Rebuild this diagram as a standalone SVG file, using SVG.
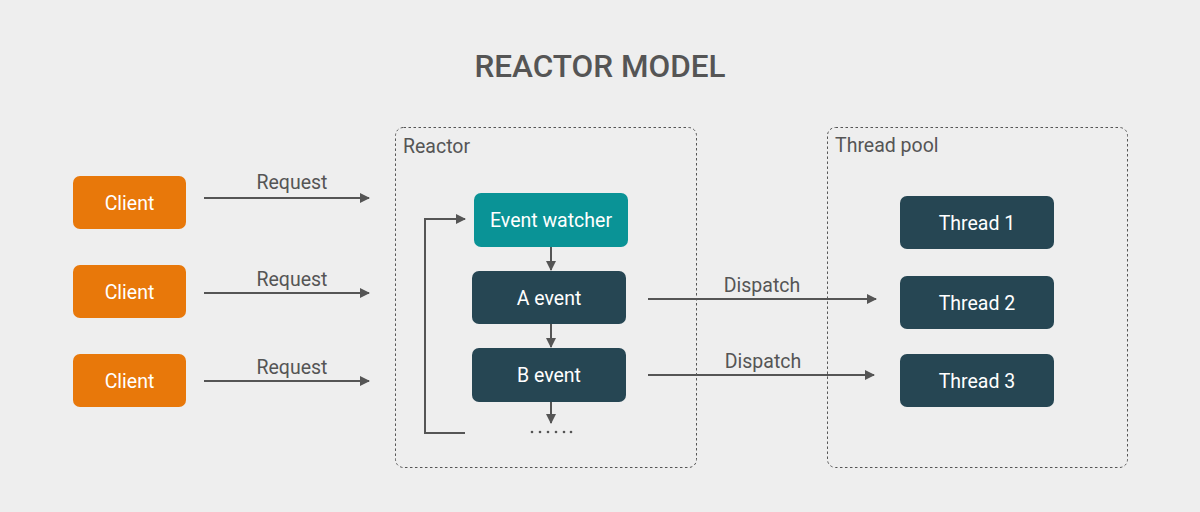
<svg xmlns="http://www.w3.org/2000/svg" width="1200" height="512" viewBox="0 0 1200 512">
<style>
text{font-family:Roboto,"Liberation Sans",sans-serif}
.node text{fill:#fff;font-size:19.5px;text-anchor:middle}
.lbl{fill:#555;font-size:19.5px}
.grp{fill:none;stroke:#555;stroke-width:1;stroke-dasharray:2.5 2.5}
.conn{fill:none;stroke:#555;stroke-width:2}
.client rect{fill:#e8780a}
.dark rect{fill:#264653}
.teal rect{fill:#0a9396}
</style>
<defs>
<marker id="ah" markerWidth="10" markerHeight="10" refX="9" refY="5" orient="auto" markerUnits="userSpaceOnUse">
<path d="M0,0 L10,5 L0,10 Z" fill="#555"/>
</marker>
</defs>
<rect width="1200" height="512" fill="#eeeeee"/>
<text x="600" y="77" text-anchor="middle" font-size="31.5" font-weight="500" fill="#555">REACTOR MODEL</text>

<g id="reactor-group">
<rect class="grp" x="395.5" y="127.5" width="301" height="340" rx="8"/>
<text class="lbl" x="403" y="153">Reactor</text>
</g>
<g id="threadpool-group">
<rect class="grp" x="827.5" y="127.5" width="300" height="340" rx="8"/>
<text class="lbl" x="835" y="152">Thread pool</text>
</g>

<g id="connectors">
<line class="conn" x1="204" y1="198" x2="369" y2="198" marker-end="url(#ah)"/>
<line class="conn" x1="204" y1="293" x2="369" y2="293" marker-end="url(#ah)"/>
<line class="conn" x1="204" y1="381" x2="369" y2="381" marker-end="url(#ah)"/>
<text class="lbl" x="292" y="189" text-anchor="middle">Request</text>
<text class="lbl" x="292" y="286" text-anchor="middle">Request</text>
<text class="lbl" x="292" y="374" text-anchor="middle">Request</text>
<line class="conn" x1="551" y1="247" x2="551" y2="270" marker-end="url(#ah)"/>
<line class="conn" x1="551" y1="324" x2="551" y2="347" marker-end="url(#ah)"/>
<line class="conn" x1="551" y1="402" x2="551" y2="423" marker-end="url(#ah)"/>
<polyline class="conn" points="465,433 425,433 425,219 465,219" marker-end="url(#ah)"/>
<line class="conn" x1="648" y1="299" x2="876" y2="299" marker-end="url(#ah)"/>
<line class="conn" x1="648" y1="375" x2="874" y2="375" marker-end="url(#ah)"/>
<text class="lbl" x="762" y="292" text-anchor="middle">Dispatch</text>
<text class="lbl" x="763" y="368" text-anchor="middle">Dispatch</text>
<g fill="#555">
<circle cx="532" cy="432" r="1.3"/><circle cx="540" cy="432" r="1.3"/><circle cx="548" cy="432" r="1.3"/>
<circle cx="556" cy="432" r="1.3"/><circle cx="564" cy="432" r="1.3"/><circle cx="571" cy="432" r="1.3"/>
</g>
</g>

<g id="client1" class="node client"><rect x="73" y="176" width="113" height="53" rx="7"/><text x="129.5" y="209.5">Client</text></g>
<g id="client2" class="node client"><rect x="73" y="265" width="113" height="53" rx="7"/><text x="129.5" y="298.5">Client</text></g>
<g id="client3" class="node client"><rect x="73" y="354" width="113" height="53" rx="7"/><text x="129.5" y="387.5">Client</text></g>

<g id="event-watcher" class="node teal"><rect x="474" y="193" width="154" height="54" rx="7"/><text x="551" y="226.5">Event watcher</text></g>
<g id="a-event" class="node dark"><rect x="472" y="271" width="154" height="53" rx="7"/><text x="549" y="304.5">A event</text></g>
<g id="b-event" class="node dark"><rect x="472" y="348" width="154" height="54" rx="7"/><text x="549" y="381.5">B event</text></g>

<g id="thread1" class="node dark"><rect x="900" y="196" width="154" height="53" rx="7"/><text x="977" y="229.5">Thread 1</text></g>
<g id="thread2" class="node dark"><rect x="900" y="276" width="154" height="53" rx="7"/><text x="977" y="309.5">Thread 2</text></g>
<g id="thread3" class="node dark"><rect x="900" y="354" width="154" height="53" rx="7"/><text x="977" y="387.5">Thread 3</text></g>
</svg>
